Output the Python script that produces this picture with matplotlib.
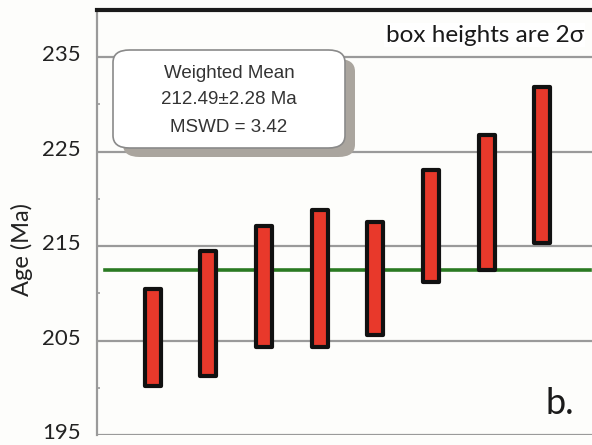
import matplotlib
matplotlib.use("Agg")
import matplotlib.pyplot as plt
import matplotlib.transforms as mtransforms
from matplotlib.patches import FancyBboxPatch

# Sample ages (Ma): 2-sigma box limits
sample_index = [1, 2, 3, 4, 5, 6, 7, 8]
age_low = [200.2, 201.2, 204.3, 204.3, 205.6, 211.2, 212.5, 215.3]
age_high = [210.5, 214.5, 217.1, 218.8, 217.6, 223.1, 226.8, 231.8]
weighted_mean = 212.49
mean_err = 2.28
mswd = 3.42
y_ticks = [195, 205, 215, 225, 235]

bg = "#fdfdfb"
fig = plt.figure(figsize=(5.92, 4.45), dpi=100, facecolor=bg)
ax = fig.add_axes([97 / 592, 10 / 445, 501 / 592, 425 / 445], facecolor=bg)

ax.set_xlim(0, 9)
ax.set_ylim(195, 240)

# horizontal gridlines
for t in y_ticks:
    ax.axhline(t, color="#9a9a9a", lw=1.6, zorder=1)

# weighted mean line
ax.plot([0.15, 8.85], [weighted_mean, weighted_mean], color="#2a7a22", lw=2.6, zorder=2)

# age boxes
heights = [h - l for l, h in zip(age_low, age_high)]
bars = ax.bar(sample_index, heights, bottom=age_low, width=0.29,
              color="#e8392b", edgecolor="#111111", linewidth=3.0, zorder=3)
for b in bars:
    b.set_joinstyle("round")

# spines
for s in ["right", "bottom"]:
    ax.spines[s].set_visible(False)
ax.spines["left"].set_color("#9a9a9a")
ax.spines["left"].set_linewidth(1.6)
ax.spines["top"].set_color("#1a1a1a")
ax.spines["top"].set_linewidth(3.0)

ax.set_xticks([])
ax.set_yticks(y_ticks)
ax.set_yticks([200, 210, 220, 230], minor=True)
ax.tick_params(axis="y", which="major", length=0, pad=12, labelsize=16,
               labelcolor="#222222")
ax.tick_params(axis="y", which="minor", length=2.5, direction="in",
               color="#9a9a9a", width=1.2)
lift = mtransforms.ScaledTranslation(0, 4 / 100, fig.dpi_scale_trans)
for lab in ax.get_yticklabels():
    lab.set_fontfamily(["Lato", "DejaVu Sans"])
    lab.set_transform(lab.get_transform() + lift)

fig.text(22 / 592, 1 - 250 / 445, "Age (Ma)", rotation=90, ha="center", va="center",
         fontsize=17, color="#222222", family=["Lato", "DejaVu Sans"])

# weighted mean annotation box with shadow
bx0, by0, bx1, by1 = 113, 50, 345, 148
def fig_box(x0, y0, x1, y1, **kw):
    return FancyBboxPatch((x0 / 592, 1 - y1 / 445), (x1 - x0) / 592, (y1 - y0) / 445,
                          boxstyle="round,pad=0,rounding_size=0.028",
                          transform=fig.transFigure, **kw)
fig.patches.append(fig_box(bx0 + 10, by0 + 9, bx1 + 10, by1 + 9,
                           facecolor="#aaa59e", edgecolor="none", zorder=5))
fig.patches.append(fig_box(bx0, by0, bx1, by1, facecolor="white",
                           edgecolor="#8a8a8a", linewidth=1.2, zorder=6))
box_lines = ["Weighted Mean",
             f"{weighted_mean:.2f}\u00b1{mean_err:.2f} Ma",
             f"MSWD = {mswd:.2f}"]
for i, line in enumerate(box_lines):
    fig.text(229 / 592, 1 - (73 + 27 * i) / 445, line, ha="center", va="center",
             fontsize=13.5, color="#333333", family=["Liberation Sans", "DejaVu Sans"],
             zorder=7)

fig.text(584 / 592, 1 - 35 / 445, "box heights are 2\u03c3", ha="right", va="center",
         fontsize=17.5, color="#1a1a1a", family=["Lato", "DejaVu Sans"],
         bbox=dict(facecolor="white", edgecolor="none", pad=1))

fig.text(574 / 592, 1 - 404 / 445, "b.", ha="right", va="center",
         fontsize=26, color="#1a1a1a", family=["Lato", "DejaVu Sans"])

fig.savefig("out.png", dpi=100, facecolor=bg)
